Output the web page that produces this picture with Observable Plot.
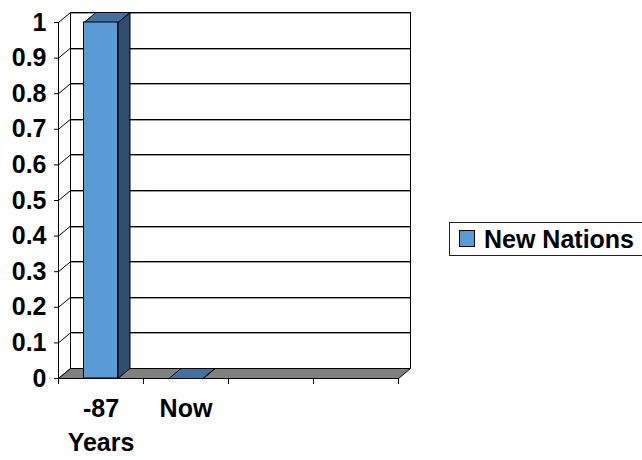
<!DOCTYPE html>
<html>
<head>
<meta charset="utf-8">
<script src="https://cdn.jsdelivr.net/npm/d3@7"></script>
<script src="https://cdn.jsdelivr.net/npm/@observablehq/plot@0.6"></script>
<style>
  html, body { margin: 0; padding: 0; background: #fff; overflow: hidden; }
  #wrap { position: relative; width: 642px; height: 460px; overflow: hidden; font-family: "Liberation Sans", Arial, sans-serif; }
  #legend { position: absolute; left: 449px; top: 222px; width: 220px; height: 34px; border: 1px solid #222; background: #fff; box-sizing: border-box; }
  #legend .sw { position: absolute; left: 9px; top: 7px; width: 14px; height: 15px; border: 1px solid #000; }
  #legend .lb { position: absolute; left: 34px; top: 1px; font-size: 25px; font-weight: bold; color: #000; line-height: 30px; white-space: nowrap; }
</style>
</head>
<body>
<div id="wrap"></div>
<script>
// ---- data ----
const categories = ["-87 Years", "Now", "", ""];
const seriesName = "New Nations";
const values = [1, 0];
const yTicks = [0, 0.1, 0.2, 0.3, 0.4, 0.5, 0.6, 0.7, 0.8, 0.9, 1];
const yTickLabels = ["0", "0.1", "0.2", "0.3", "0.4", "0.5", "0.6", "0.7", "0.8", "0.9", "1"];

// ---- style ----
const frontColor = "#5B9BD5";
const sideColor = "#2F4E6D";
const topColor = "#41719C";
const floorColor = "#808080";
const depthX = 12 / 85;   // 3D depth in category units
const depthY = 10 / 356;  // 3D depth in value units
const barGap = 0.3;       // gap on each side of a bar within a category

const nCat = categories.length;
const bars = values.map((v, i) => ({i, v, x1: i + barGap, x2: i + 1 - barGap}));

const sidePts = bars.flatMap(b => [
  {id: b.i, x: b.x2, y: 0}, {id: b.i, x: b.x2 + depthX, y: depthY},
  {id: b.i, x: b.x2 + depthX, y: b.v + depthY}, {id: b.i, x: b.x2, y: b.v}, {id: b.i, x: b.x2, y: 0}
]);
const topPts = bars.flatMap(b => [
  {id: b.i, x: b.x1, y: b.v}, {id: b.i, x: b.x2, y: b.v},
  {id: b.i, x: b.x2 + depthX, y: b.v + depthY}, {id: b.i, x: b.x1 + depthX, y: b.v + depthY}, {id: b.i, x: b.x1, y: b.v}
]);
const floorPts = [
  {x: 0, y: 0}, {x: nCat, y: 0}, {x: nCat + depthX, y: depthY}, {x: depthX, y: depthY}, {x: 0, y: 0}
];
const catTicks = d3.range(nCat + 1);
const catLabels = categories.map((c, i) => ({c, x: i + 0.5}));

const chart = Plot.plot({
  width: 642,
  height: 460,
  marginLeft: 58,
  marginRight: 244,
  marginTop: 22,
  marginBottom: 82,
  style: {fontFamily: "'Liberation Sans', Arial, sans-serif", fontSize: "25px", fontWeight: "bold", color: "#000", background: "transparent", overflow: "visible"},
  x: {type: "linear", domain: [0, nCat], axis: null},
  y: {domain: [0, 1], ticks: yTicks, tickSize: 4, tickPadding: 8, tickFormat: (d) => yTickLabels[yTicks.indexOf(d)] ?? d, label: null},
  marks: [
    // back wall gridlines (with a soft shadow)
    Plot.ruleY(yTicks, {y: d => d + depthY, x1: depthX, x2: nCat + depthX, stroke: "#9a9a9a", strokeOpacity: 1, dy: 1, shapeRendering: "crispEdges"}),
    Plot.ruleY(yTicks, {y: d => d + depthY, x1: depthX, x2: nCat + depthX, stroke: "#000", strokeOpacity: 1, shapeRendering: "crispEdges"}),
    // back wall vertical edges
    Plot.ruleX([depthX, nCat + depthX], {y1: depthY, y2: 1 + depthY, stroke: "#000", strokeOpacity: 1, shapeRendering: "crispEdges"}),
    // left wall diagonals
    Plot.link(yTicks, {x1: 0, y1: d => d, x2: depthX, y2: d => d + depthY, stroke: "#000", strokeOpacity: 1}),
    // floor
    Plot.line(floorPts, {x: "x", y: "y", fill: floorColor, stroke: "#000", strokeWidth: 1, strokeOpacity: 1}),
    // front value axis line
    Plot.ruleX([0], {y1: 0, y2: 1, stroke: "#000", strokeOpacity: 1, shapeRendering: "crispEdges"}),
    // bars: side, top, front
    Plot.line(sidePts, {x: "x", y: "y", z: "id", fill: sideColor, stroke: "#000", strokeWidth: 1, strokeOpacity: 1}),
    Plot.line(topPts, {x: "x", y: "y", z: "id", fill: topColor, stroke: "#000", strokeWidth: 1, strokeOpacity: 1}),
    Plot.rect(bars, {x1: "x1", x2: "x2", y1: 0, y2: "v", fill: frontColor, stroke: "#000", strokeWidth: 1}),
    // category ticks
    Plot.ruleX(catTicks, {x: d => d, y1: 0, y2: 0, stroke: "#000", strokeOpacity: 1, insetBottom: -6, shapeRendering: "crispEdges"}),
    // category labels
    Plot.text(catLabels, {x: "x", text: "c", frameAnchor: "bottom", lineAnchor: "top", dy: 14, lineWidth: 3.2, lineHeight: 1.36, fontSize: 25, fontWeight: "bold", fill: "#000"})
  ]
});

const wrap = document.getElementById("wrap");
wrap.appendChild(chart);
const legend = document.createElement("div");
legend.id = "legend";
legend.innerHTML = `<div class="sw" style="background:${frontColor}"></div><div class="lb"></div>`;
legend.querySelector(".lb").textContent = seriesName;
wrap.appendChild(legend);
</script>
</body>
</html>
